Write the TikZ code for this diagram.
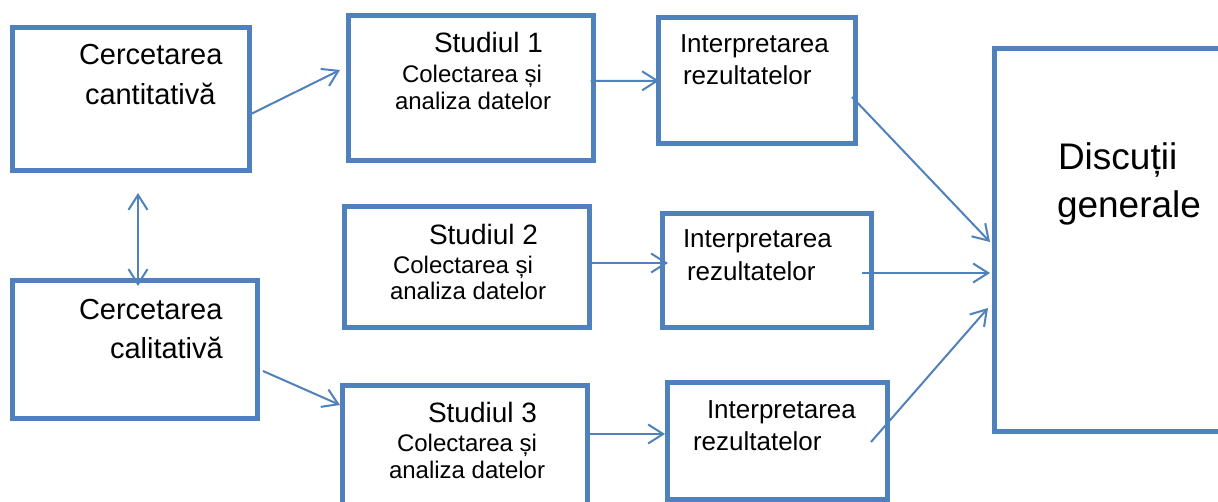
\documentclass[tikz,border=0pt]{standalone}
\usepackage{fontspec}
\setmainfont{Liberation Sans}
\usetikzlibrary{arrows.meta}
\definecolor{bc}{HTML}{4F81BD}
\tikzset{
  box/.style={draw=bc, line width=5pt, rectangle, inner sep=0pt, outer sep=0pt},
  arr/.style={draw=bc, line width=2pt, -{Straight Barb[length=15pt,width=19pt,line width=2pt]}},
  darr/.style={draw=bc, line width=2pt, {Straight Barb[length=15pt,width=19pt,line width=2pt]}-{Straight Barb[length=15pt,width=19pt,line width=2pt]}},
  txt/.style={anchor=base west, inner sep=0pt, outer sep=0pt, text=black},
  fbig/.style={txt, font=\fontsize{29}{34}\selectfont},
  fstud/.style={txt, font=\fontsize{28}{33}\selectfont},
  fsmall/.style={txt, font=\fontsize{24}{28}\selectfont},
  fint/.style={txt, font=\fontsize{26}{31}\selectfont},
  fdisc/.style={txt, font=\fontsize{37}{44}\selectfont}
}
\begin{document}
\begin{tikzpicture}[x=1pt,y=-1pt]
\useasboundingbox (0,0) rectangle (1218,502);
\clip (0,0) rectangle (1218,502);
\fill[white] (0,0) rectangle (1218,502);
% boxes
\node[box, minimum width=237pt, minimum height=143pt] (A) at (131,99) {};
\node[box, minimum width=244.5pt, minimum height=137pt] (B) at (134.75,349.5) {};
\node[box, minimum width=245pt, minimum height=145.5pt] (S1) at (471,88.25) {};
\node[box, minimum width=197.5pt, minimum height=125.5pt] (I1) at (756.75,80.75) {};
\node[box, minimum width=245.5pt, minimum height=121.5pt] (S2) at (466.75,267.25) {};
\node[box, minimum width=208.5pt, minimum height=114.5pt] (I2) at (766.75,270.75) {};
\node[box, minimum width=245pt, minimum height=126pt] (S3) at (465,448.5) {};
\node[box, minimum width=220.5pt, minimum height=116pt] (I3) at (777.25,441) {};
\node[box, minimum width=245.5pt, minimum height=382pt] (D) at (1117.25,240) {};
% texts
\node[fbig] (tA1) at (79,65) {Cercetarea};
\node[fbig] (tA2) at (85,105) {cantitativă};
\node[fbig] (tB1) at (79,320) {Cercetarea};
\node[fbig] (tB2) at (110,359) {calitativă};
\node[fstud] (tS1a) at (434,53) {Studiul 1};
\node[fsmall] (tS1b) at (402,83) {Colectarea și};
\node[fsmall] (tS1c) at (395,110) {analiza datelor};
\node[fstud] (tS2a) at (429,245) {Studiul 2};
\node[fsmall] (tS2b) at (393,274) {Colectarea și};
\node[fsmall] (tS2c) at (390,300) {analiza datelor};
\node[fstud] (tS3a) at (428,422) {Studiul 3};
\node[fsmall] (tS3b) at (397,451) {Colectarea și};
\node[fsmall] (tS3c) at (389,478) {analiza datelor};
\node[fint] (tI1a) at (680,53) {Interpretarea};
\node[fint] (tI1b) at (683,85) {rezultatelor};
\node[fint] (tI2a) at (683,248) {Interpretarea};
\node[fint] (tI2b) at (687,281) {rezultatelor};
\node[fint] (tI3a) at (707,418) {Interpretarea};
\node[fint] (tI3b) at (693,450) {rezultatelor};
\node[fdisc] (tD1) at (1058,170) {Discuții};
\node[fdisc] (tD2) at (1057,218) {generale};
% connectors
\draw[arr] ([xshift=1.5pt,yshift=-15pt]A.east) -- ([xshift=-8.5pt,yshift=18.25pt]S1.west);
\draw[darr] ([xshift=7pt,yshift=-22.5pt]A.south) -- ([xshift=3.25pt,yshift=-5pt]B.north);
\draw[arr] ([xshift=6pt,yshift=-21.5pt]B.east) -- ([xshift=-2.5pt,yshift=43.5pt]S3.west);
\draw[arr] ([xshift=-3pt,yshift=7.25pt]S1.east) -- ([xshift=1pt]I1.west);
\draw[arr] ([xshift=2pt,yshift=4.25pt]S2.east) -- ([xshift=5.5pt,yshift=7.75pt]I2.west);
\draw[arr] ([xshift=2.5pt,yshift=14.5pt]S3.east) -- ([xshift=-2pt,yshift=7pt]I3.west);
\draw[arr] ([xshift=-3.5pt,yshift=-16.25pt]I1.east) -- ([xshift=-4.5pt,yshift=-2pt]D.west);
\draw[arr] ([xshift=-9pt,yshift=-2.25pt]I2.east) -- ([xshift=-4.5pt,yshift=-33pt]D.west);
\draw[arr] ([xshift=-16.5pt,yshift=-1pt]I3.east) -- ([xshift=-6.5pt,yshift=-68pt]D.west);
\end{tikzpicture}
\end{document}
